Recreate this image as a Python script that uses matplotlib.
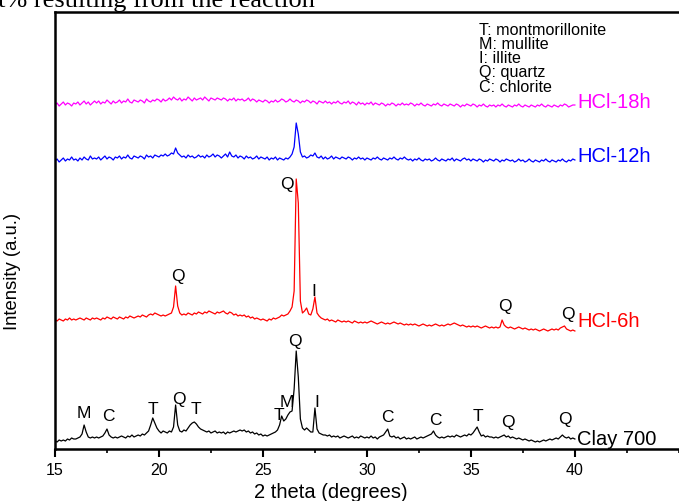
import numpy as np
import matplotlib
matplotlib.use('Agg')
import matplotlib.pyplot as plt
from matplotlib.ticker import MultipleLocator

plt.rcParams['font.family'] = ['Liberation Sans', 'DejaVu Sans']

# 2theta grid, 0.1 deg steps from 15 to 40
two_theta = np.round(np.arange(150, 401) * 0.1, 1)

clay700 = [
    8, 7, 9, 8, 9, 8, 10, 9, 11, 10,
    10, 11, 12, 15, 24, 17, 12, 11, 12, 11,
    12, 11, 12, 13, 16, 20, 14, 12, 11, 12,
    11, 12, 13, 12, 11, 13, 12, 14, 12, 13,
    14, 13, 15, 14, 16, 18, 24, 31, 26, 21,
    18, 16, 18, 17, 16, 18, 17, 22, 44, 24,
    18, 17, 19, 18, 21, 24, 26, 27, 25, 22,
    20, 19, 18, 17, 18, 16, 17, 18, 16, 17,
    16, 17, 15, 17, 16, 17, 18, 17, 18, 19,
    18, 19, 17, 18, 16, 17, 15, 16, 14, 15,
    13, 14, 13, 14, 15, 16, 17, 19, 24, 33,
    28, 30, 34, 37, 38, 60, 98, 72, 30, 21,
    19, 21, 19, 17, 17, 41, 20, 16, 15, 14,
    14, 13, 14, 12, 13, 12, 13, 11, 12, 13,
    12, 11, 12, 13, 11, 12, 11, 13, 12, 11,
    12, 11, 13, 11, 12, 10, 12, 13, 14, 17,
    20, 13, 12, 13, 11, 12, 10, 11, 12, 10,
    11, 10, 11, 12, 10, 11, 12, 11, 12, 13,
    14, 15, 18, 14, 12, 11, 12, 11, 12, 13,
    12, 13, 12, 14, 13, 12, 13, 14, 13, 15,
    14, 16, 19, 22, 17, 13, 14, 12, 13, 12,
    12, 11, 12, 11, 12, 13, 14, 12, 13, 11,
    12, 11, 10, 11, 10, 9, 10, 9, 8, 9,
    8, 7, 8, 7, 8, 9, 8, 9, 10, 9,
    10, 11, 10, 12, 14, 12, 11, 12, 10, 11,
    10,
]

hcl_6h = [
    129, 128, 130, 129, 128, 130, 129, 131, 129, 130,
    129, 130, 131, 130, 129, 131, 130, 129, 131, 130,
    131, 130, 129, 131, 130, 132, 131, 130, 132, 131,
    130, 132, 131, 130, 132, 131, 133, 132, 131, 132,
    133, 132, 134, 133, 132, 134, 135, 134, 136, 135,
    134, 133, 134, 133, 134, 135, 136, 142, 163, 143,
    136, 134, 135, 134, 136, 135, 134, 136, 135, 137,
    136, 135, 137, 136, 138, 137, 136, 135, 137, 136,
    137, 138, 136, 135, 137, 136, 134, 135, 133, 134,
    133, 134, 132, 133, 131, 132, 130, 131, 130, 129,
    130, 129, 128, 130, 129, 131, 130, 131, 132, 134,
    133, 134, 135, 138, 142, 158, 270, 246, 148, 136,
    138, 141, 135, 134, 140, 152, 136, 133, 131, 130,
    129, 130, 128, 129, 128, 127, 129, 128, 127, 128,
    127, 128, 127, 126, 128, 127, 126, 127, 126, 127,
    126, 127, 128, 127, 126, 125, 126, 127, 126, 125,
    126, 125, 126, 127, 126, 125, 126, 125, 124, 125,
    124, 125, 124, 125, 124, 123, 124, 125, 124, 123,
    124, 123, 124, 125, 124, 123, 124, 123, 124, 125,
    124, 125, 126, 125, 124, 123, 124, 123, 122, 123,
    122, 123, 122, 123, 122, 121, 122, 123, 122, 121,
    122, 121, 122, 121, 122, 129, 124, 122, 121, 122,
    121, 120, 121, 122, 121, 120, 121, 120, 119, 120,
    119, 120, 119, 118, 119, 120, 119, 118, 119, 120,
    119, 120, 119, 121, 122, 123, 120, 119, 118, 119,
    118,
]

hcl_12h = [
    288, 290, 287, 289, 291, 288, 290, 289, 292, 289,
    290, 288, 291, 289, 292, 290, 289, 293, 290, 291,
    290, 292, 289, 291, 293, 290, 292, 291, 289, 292,
    291, 293, 290, 292, 291, 294, 291, 290, 293, 292,
    291, 293, 292, 290, 294, 292, 293, 291, 294, 293,
    292, 294, 293, 295, 293, 294, 296, 295, 301, 296,
    294, 292, 293, 291, 294, 292, 293, 291, 292, 294,
    292, 293, 291, 294, 292, 293, 295, 292, 294, 293,
    291, 293, 295, 292, 297, 293, 292, 294, 291, 293,
    292, 290, 293, 291, 292, 290, 291, 293, 290, 292,
    291, 290, 292, 289, 291, 290, 292, 289, 291, 290,
    289, 291, 290, 292, 295, 302, 326, 315, 297, 292,
    293, 291, 292, 294, 293, 296, 292, 291, 293, 290,
    292, 290, 291, 293, 290, 292, 291, 290, 292, 291,
    290, 292, 291, 289, 291, 290, 292, 290, 291, 289,
    291, 290, 289, 291, 290, 292, 290, 289, 291, 290,
    289, 291, 290, 292, 290, 289, 291, 290, 292, 290,
    289, 290, 288, 290, 289, 291, 289, 288, 290, 289,
    290, 288, 289, 291, 289, 288, 290, 289, 288, 290,
    289, 291, 288, 290, 289, 288, 290, 291, 289, 290,
    288, 290, 289, 288, 290, 289, 287, 289, 288, 290,
    289, 288, 290, 289, 287, 289, 288, 290, 289, 288,
    289, 287, 288, 290, 288, 289, 287, 288, 290, 288,
    287, 289, 288, 287, 289, 288, 290, 288, 287, 289,
    288, 287, 289, 288, 290, 288, 287, 289, 288, 290,
    289,
]

hcl_18h = [
    344, 346, 343, 345, 347, 344, 346, 345, 343, 346,
    345, 347, 344, 346, 348, 345, 347, 344, 346, 348,
    346, 348, 345, 347, 346, 349, 347, 345, 348, 346,
    347, 349, 346, 348, 347, 350, 347, 346, 349, 348,
    347, 349, 348, 346, 350, 348, 347, 349, 348, 350,
    349, 347, 350, 348, 349, 351, 349, 352, 350, 349,
    351, 348, 350, 349, 352, 350, 348, 351, 349, 350,
    351, 349, 352, 350, 348, 351, 350, 349, 351, 350,
    349, 351, 350, 348, 350, 349, 351, 348, 350, 349,
    350, 348, 349, 351, 348, 350, 349, 347, 349, 348,
    347, 349, 348, 346, 348, 347, 349, 347, 348, 350,
    349, 347, 348, 350, 348, 347, 349, 348, 346, 348,
    347, 349, 348, 346, 348, 347, 345, 348, 347, 346,
    348, 346, 347, 345, 347, 346, 348, 346, 345, 347,
    346, 348, 345, 347, 346, 344, 347, 345, 346, 344,
    346, 345, 347, 344, 346, 345, 344, 346, 345, 343,
    345, 344, 346, 345, 343, 345, 344, 346, 344, 345,
    344, 346, 345, 343, 345, 344, 346, 344, 343, 345,
    344, 343, 345, 344, 346, 344, 343, 345, 344, 343,
    345, 344, 343, 345, 344, 342, 344, 343, 345, 344,
    343, 345, 344, 342, 344, 343, 345, 343, 342, 344,
    343, 344, 342, 344, 343, 345, 343, 342, 344, 343,
    342, 344, 343, 345, 343, 342, 344, 343, 342, 344,
    343, 342, 344, 343, 345, 343, 342, 344, 343, 342,
    344, 343, 342, 344, 343, 345, 344, 342, 343, 344,
    344,
]

sample_names = ['Clay 700', 'HCl-6h', 'HCl-12h', 'HCl-18h']
sample_colors = ['black', 'red', 'blue', 'magenta']
sample_data = [clay700, hcl_6h, hcl_12h, hcl_18h]
name_y = [10, 128, 294, 348]

# phase labels: (2theta, intensity, letter)
peak_labels = [
    (16.4, 36, 'M'), (17.55, 33, 'C'), (19.7, 40, 'T'), (20.96, 50, 'Q'),
    (21.8, 40, 'T'), (25.77, 34, 'T'), (26.15, 47, 'M'), (26.54, 108, 'Q'),
    (27.6, 47, 'I'), (31.0, 32, 'C'), (33.3, 29, 'C'), (35.35, 33, 'T'),
    (36.8, 27, 'Q'), (39.5, 30, 'Q'),
    (20.9, 173, 'Q'), (26.15, 265, 'Q'), (27.45, 159, 'I'),
    (36.63, 143, 'Q'), (39.66, 136, 'Q'),
]

phase_key = ['T: montmorillonite', 'M: mullite', 'I: illite', 'Q: quartz', 'C: chlorite']

fig = plt.figure(figsize=(6.79, 5.02), dpi=100)
ax = fig.add_axes([55/679, 52/502, 628/679, 437/502])

for y, c, name, ny in zip(sample_data, sample_colors, sample_names, name_y):
    ax.plot(two_theta, y, color=c, lw=0.9)
    ax.text(40.1, ny, name, color=c, fontsize=14.5, va='center', ha='left')

for x, y, s in peak_labels:
    ax.text(x, y, s, fontsize=12.5, ha='center', va='center')

# phase key as one block of lines
fig.text(479/679, 1 - 23/502, '\n'.join(phase_key), fontsize=11.6,
         ha='left', va='top', linespacing=0.93)

ax.set_xlim(15, 45.2)
ax.set_ylim(0, 437)
ax.xaxis.set_minor_locator(MultipleLocator(2.5))
ax.set_xticks([15, 20, 25, 30, 35, 40])
ax.tick_params(axis='x', which='major', direction='out', length=6, width=1.5, labelsize=11.5)
ax.tick_params(axis='x', which='minor', direction='out', length=3, width=1.2)
ax.set_yticks([])
ax.spines['right'].set_visible(False)
for sp in ['left', 'top', 'bottom']:
    ax.spines[sp].set_linewidth(1.8)

ax.set_xlabel('2 theta (degrees)', fontsize=14.5)
ax.xaxis.set_label_coords((331 - 55) / 628, -0.075, transform=ax.transAxes)
ax.xaxis.label.set_va('top')
ax.set_ylabel('Intensity (a.u.)', fontsize=13.3)
ax.yaxis.set_label_coords(-34/628, (450 - 271) / 437)

# running text of the page above the figure
fig.text(-0.003, 1 - 7/502, 't% resulting from the reaction', fontsize=19,
         family='Liberation Serif', ha='left', va='baseline')

plt.savefig('out.png', dpi=100)
